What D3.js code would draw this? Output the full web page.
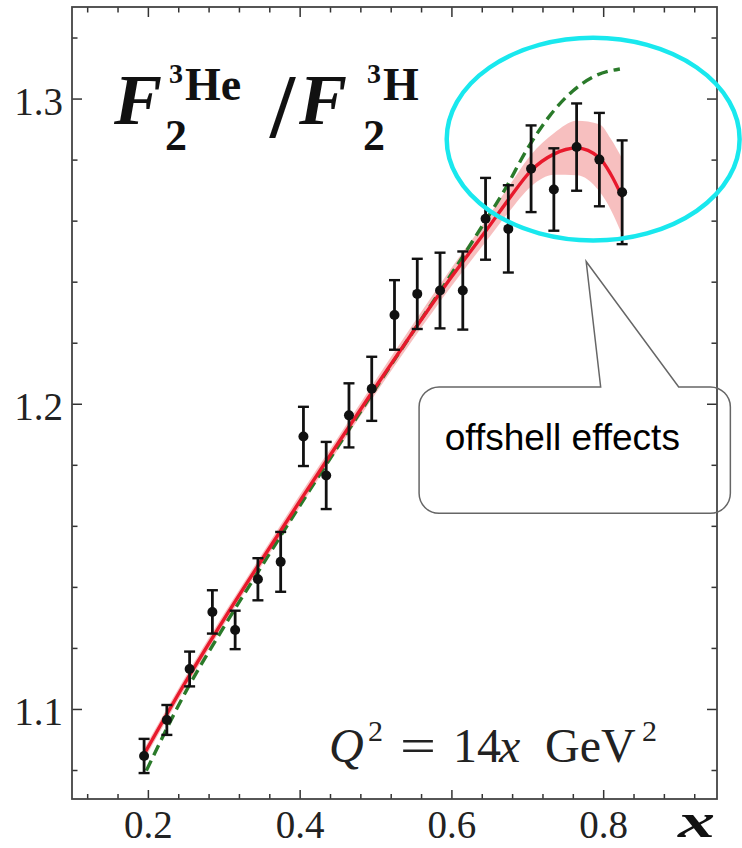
<!DOCTYPE html>
<html>
<head>
<meta charset="utf-8">
<script src="https://cdn.jsdelivr.net/npm/d3@7"></script>
<style>
  html, body { margin: 0; padding: 0; background: #fff; }
  svg { display: block; }
</style>
</head>
<body>
<div id="chart"></div>
<script>
'use strict';

// data points F2(3He)/F2(3H)
var xData = [0.195, 0.225, 0.255, 0.285, 0.315, 0.345, 0.375, 0.405, 0.435, 0.465, 0.495,
             0.525, 0.555, 0.585, 0.615, 0.645, 0.675, 0.705, 0.735, 0.765, 0.795, 0.825];
var yData = [1.0846, 1.0964, 1.1131, 1.1318, 1.1259, 1.1425, 1.1482, 1.1893, 1.1765, 1.1962, 1.2049,
             1.2291, 1.2360, 1.2371, 1.2371, 1.2606, 1.2573, 1.2770, 1.2702, 1.2841, 1.2800, 1.2693];
var yErr = [0.0056, 0.0049, 0.0057, 0.0071, 0.0063, 0.0069, 0.0098, 0.0097, 0.0110, 0.0105, 0.0105,
            0.0114, 0.0115, 0.0124, 0.0128, 0.0134, 0.0143, 0.0142, 0.0135, 0.0143, 0.0153, 0.0170];

// red curve (with offshell) + half width of its band
var curveX = [0.195, 0.25, 0.30, 0.35, 0.40, 0.45, 0.50, 0.55, 0.60, 0.645, 0.675, 0.705, 0.735, 0.765, 0.795, 0.81, 0.825];
var curveY = [1.0852, 1.1090, 1.1293, 1.1488, 1.1680, 1.1868, 1.2055, 1.2238, 1.2415, 1.2565, 1.2668, 1.2764, 1.2818, 1.2838, 1.2806, 1.2752, 1.2678];
var bandHalf = [0.0018, 0.0018, 0.0018, 0.0018, 0.0020, 0.0020, 0.0022, 0.0025, 0.0030, 0.0035, 0.0042, 0.0052, 0.0068, 0.0089, 0.0110, 0.0116, 0.0125];

// green dashed curve (no offshell)
var plainX = [0.198, 0.25, 0.30, 0.35, 0.40, 0.45, 0.50, 0.55, 0.60, 0.64, 0.67, 0.70, 0.73, 0.76, 0.79, 0.822];
var plainY = [1.0798, 1.1057, 1.1268, 1.1468, 1.1665, 1.1858, 1.2050, 1.2238, 1.2425, 1.2580, 1.2700, 1.2835, 1.2945, 1.3025, 1.3075, 1.3097];

var xMajor = [0.2, 0.4, 0.6, 0.8];
var xMinor = [0.12, 0.16, 0.24, 0.28, 0.32, 0.36, 0.44, 0.48, 0.52, 0.56, 0.64, 0.68, 0.72, 0.76, 0.84, 0.88, 0.92];
var yMajor = [1.1, 1.2, 1.3];
var yMinor = [1.08, 1.12, 1.14, 1.16, 1.18, 1.22, 1.24, 1.26, 1.28, 1.32];

var W = 742, H = 848;
var plotL = 72, plotR = 717, plotT = 7, plotB = 799;

var x = d3.scaleLinear().domain([0.1, 0.95]).range([plotL, plotR]);
var y = d3.scaleLinear().domain([1.0705, 1.33]).range([plotB, plotT]);

var svg = d3.select('#chart').append('svg')
    .attr('width', W)
    .attr('height', H);

////////////

drawAxes();
drawCurves();
drawPoints();
drawLabels();
drawCallout();

function drawAxes() {
    var serif = 'Liberation Serif, Times New Roman, serif';

    function ticks(axisFn, vals, size, tx, ty, labels) {
        var g = svg.append('g')
            .attr('transform', 'translate(' + tx + ',' + ty + ')')
            .call(axisFn.tickValues(vals).tickSize(-size).tickSizeOuter(0).tickPadding(11)
                .tickFormat(labels ? d3.format('.1f') : ''));
        g.select('.domain').remove();
        g.selectAll('line').attr('stroke', '#333').attr('stroke-width', 1.5);
        g.selectAll('text')
            .attr('font-family', serif)
            .attr('font-size', 39)
            .attr('fill', '#222');
        return g;
    }

    ticks(d3.axisBottom(x), xMajor, 9, 0, plotB, true);
    ticks(d3.axisBottom(x), xMinor, 5, 0, plotB, false);
    ticks(d3.axisTop(x), xMajor, 10, 0, plotT, false);
    ticks(d3.axisTop(x), xMinor, 5.5, 0, plotT, false);
    var yl = ticks(d3.axisLeft(y), yMajor, 10, plotL, 0, true);
    yl.selectAll('text').attr('dy', 16).attr('x', -9);
    ticks(d3.axisLeft(y), yMinor, 5.5, plotL, 0, false);
    ticks(d3.axisRight(y), yMajor, 10, plotR, 0, false);
    ticks(d3.axisRight(y), yMinor, 5.5, plotR, 0, false);

    svg.append('rect')
        .attr('x', plotL)
        .attr('y', plotT)
        .attr('width', plotR - plotL)
        .attr('height', plotB - plotT)
        .attr('fill', 'none')
        .attr('stroke', '#444')
        .attr('stroke-width', 1.8);
}

function drawCurves() {
    var idx = d3.range(curveX.length);

    var band = d3.area()
        .x(function (i) { return x(curveX[i]); })
        .y0(function (i) { return y(curveY[i] - bandHalf[i]); })
        .y1(function (i) { return y(curveY[i] + bandHalf[i]); })
        .curve(d3.curveMonotoneX);

    svg.append('path')
        .attr('d', band(idx))
        .attr('fill', '#f08080')
        .attr('fill-opacity', 0.5);

    var green = d3.line()
        .x(function (i) { return x(plainX[i]); })
        .y(function (i) { return y(plainY[i]); })
        .curve(d3.curveMonotoneX);

    svg.append('path')
        .attr('d', green(d3.range(plainX.length)))
        .attr('fill', 'none')
        .attr('stroke', '#2a7a2a')
        .attr('stroke-width', 3.4)
        .attr('stroke-dasharray', '11,6');

    var red = d3.line()
        .x(function (i) { return x(curveX[i]); })
        .y(function (i) { return y(curveY[i]); })
        .curve(d3.curveMonotoneX);

    svg.append('path')
        .attr('d', red(idx))
        .attr('fill', 'none')
        .attr('stroke', '#e8192c')
        .attr('stroke-width', 3.4);
}

function drawPoints() {
    var g = svg.append('g').attr('class', 'points');
    xData.forEach(function (xv, i) {
        var px = x(xv);
        var lo = y(yData[i] - yErr[i]);
        var hi = y(yData[i] + yErr[i]);
        g.append('line')
            .attr('x1', px).attr('x2', px)
            .attr('y1', lo).attr('y2', hi)
            .attr('stroke', '#111')
            .attr('stroke-width', 2.8);
        [lo, hi].forEach(function (cy) {
            g.append('line')
                .attr('x1', px - 5.5).attr('x2', px + 5.5)
                .attr('y1', cy).attr('y2', cy)
                .attr('stroke', '#111')
                .attr('stroke-width', 2.4);
        });
        g.append('circle')
            .attr('cx', px)
            .attr('cy', y(yData[i]))
            .attr('r', 5)
            .attr('fill', '#111');
    });
}

function drawLabels() {
    var serif = 'Liberation Serif, Times New Roman, serif';

    // title F2^3He / F2^3H
    var t = svg.append('text')
        .attr('font-family', serif)
        .attr('font-weight', 'bold')
        .attr('fill', '#111');
    t.append('tspan').attr('x', 114).attr('y', 124).attr('font-size', 72).attr('font-style', 'italic').text('F');
    t.append('tspan').attr('x', 165).attr('y', 150).attr('font-size', 44).text('2');
    t.append('tspan').attr('x', 169).attr('y', 83).attr('font-size', 28).text('3');
    t.append('tspan').attr('x', 185).attr('y', 100).attr('font-size', 46).text('He');
    t.append('tspan').attr('x', 270).attr('y', 137).attr('font-size', 90).text('/');
    t.append('tspan').attr('x', 299).attr('y', 124).attr('font-size', 72).attr('font-style', 'italic').text('F');
    t.append('tspan').attr('x', 363).attr('y', 150).attr('font-size', 44).text('2');
    t.append('tspan').attr('x', 367).attr('y', 83).attr('font-size', 28).text('3');
    t.append('tspan').attr('x', 383).attr('y', 100).attr('font-size', 46).text('H');

    var q = svg.append('text')
        .attr('font-family', serif)
        .attr('font-size', 48)
        .attr('fill', '#222');
    q.append('tspan').attr('x', 329).attr('y', 762).attr('font-style', 'italic').text('Q');
    q.append('tspan').attr('x', 368).attr('y', 741).attr('font-size', 30).text('2');
    q.append('tspan').attr('x', 400).attr('y', 762).attr('textLength', 36).attr('lengthAdjust', 'spacingAndGlyphs').text('=');
    q.append('tspan').attr('x', 453).attr('y', 762).text('14');
    q.append('tspan').attr('x', 499).attr('y', 762).attr('font-style', 'italic').text('x');
    q.append('tspan').attr('x', 545).attr('y', 762).text('GeV');
    q.append('tspan').attr('x', 642).attr('y', 741).attr('font-size', 30).text('2');

    svg.append('text')
        .attr('x', 678)
        .attr('y', 837)
        .attr('font-family', serif)
        .attr('font-size', 48)
        .attr('font-weight', 'bold')
        .attr('font-style', 'italic')
        .attr('textLength', 37)
        .attr('lengthAdjust', 'spacingAndGlyphs')
        .attr('fill', '#111')
        .text('x');
}

function drawCallout() {
    // ellipse around the high-x region
    svg.append('ellipse')
        .attr('cx', x(0.7868))
        .attr('cy', y(1.2867))
        .attr('rx', x(0.7868 + 0.193) - x(0.7868))
        .attr('ry', y(1.2867) - y(1.2867 + 0.0332))
        .attr('fill', 'none')
        .attr('stroke', '#19e8ee')
        .attr('stroke-width', 4.5);

    var bx0 = x(0.5574), bx1 = x(0.9676), by0 = y(1.2055), by1 = y(1.1641);
    var ax = x(0.7776), ay = y(1.2466), p0 = x(0.7967), p1 = x(0.8995);
    var r = 20;
    var p = d3.path();
    p.moveTo(p0, by0);
    p.lineTo(ax, ay);
    p.lineTo(p1, by0);
    p.lineTo(bx1 - r, by0);
    p.arcTo(bx1, by0, bx1, by0 + r, r);
    p.lineTo(bx1, by1 - r);
    p.arcTo(bx1, by1, bx1 - r, by1, r);
    p.lineTo(bx0 + r, by1);
    p.arcTo(bx0, by1, bx0, by1 - r, r);
    p.lineTo(bx0, by0 + r);
    p.arcTo(bx0, by0, bx0 + r, by0, r);
    p.closePath();

    svg.append('path')
        .attr('d', p.toString())
        .attr('fill', 'none')
        .attr('stroke', '#666')
        .attr('stroke-width', 1.5);

    svg.append('text')
        .attr('x', x(0.5912))
        .attr('y', y(1.1848))
        .attr('font-family', 'Liberation Sans, Arial, sans-serif')
        .attr('font-size', 37)
        .attr('fill', '#000')
        .text('offshell effects');
}
</script>
</body>
</html>
